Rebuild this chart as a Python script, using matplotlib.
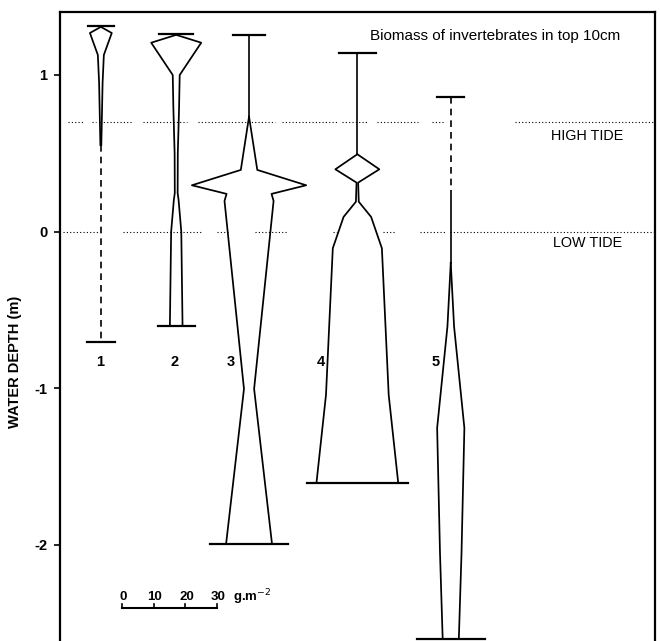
import matplotlib
matplotlib.use('Agg')
import matplotlib.pyplot as plt

plt.rcParams['font.family'] = ['Liberation Sans', 'DejaVu Sans']

# kite centres along x, in g.m-2 measured from the left spine
sites = ['1', '2', '3', '4', '5']
centres = [12.9, 36.7, 59.7, 93.9, 123.4]

# kite outlines: depth (m) and biomass (g.m-2, full kite width)
depth_1 = [1.307, 1.268, 1.128, 0.95, 0.70, 0.553]
biomass_1 = [0.0, 6.9, 1.9, 1.1, 0.6, 0.3]

depth_2 = [1.255, 1.206, 1.0, 0.79, 0.50, 0.247, 0.202, 0.0, -0.602]
biomass_2 = [0.3, 15.8, 2.2, 1.8, 1.0, 0.9, 1.5, 3.2, 4.0]

depth_3 = [0.734, 0.394, 0.296, 0.241, 0.196, -1.004, -1.993]
biomass_3 = [0.0, 5.2, 36.1, 14.2, 15.5, 3.2, 14.5]

depth_4 = [0.494, 0.398, 0.313, 0.191, 0.094, -0.106, -1.042, -1.602]
biomass_4 = [0.0, 13.9, 0.5, 0.9, 8.7, 15.5, 19.8, 25.8]

depth_5 = [-0.20, -0.606, -1.253, -2.05, -2.60]
biomass_5 = [0.0, 2.1, 8.6, 6.8, 5.1]

depths = [depth_1, depth_2, depth_3, depth_4, depth_5]
biomass = [biomass_1, biomass_2, biomass_3, biomass_4, biomass_5]

# sampled range of each site (end bars)
range_top = [1.315, 1.262, 1.256, 1.139, 0.862]
range_bottom = [-0.702, -0.602, -1.993, -1.602, -2.60]
bar_top = [8.4, 10.7, 10.0, 11.8, 8.4]
bar_bottom = [9.0, 11.8, 24.8, 32.1, 21.5]

# stems where the animals were present at very low biomass
solid_stems = [(2, 1.256, 0.734), (3, 1.139, 0.494), (4, 0.26, -0.20)]
dashed_stems = [(0, 0.553, -0.702), (4, 0.862, 0.26)]

# tide levels and the pieces of the dotted lines that were drawn
high_tide = 0.70
low_tide = 0.0
high_pieces = [(2.5, 7.3), (10.1, 11.4), (12.6, 23.1), (26.2, 40.1), (43.6, 67.9),
               (70.1, 87.5), (89.0, 96.9), (100.1, 113.0), (117.5, 121.6), (143.7, 187.9)]
low_pieces = [(0.9, 12.0), (19.9, 44.7), (49.6, 53.7), (61.6, 71.7), (86.2, 87.5),
              (102.0, 105.8), (113.7, 121.6), (123.1, 187.9)]

scale_ticks = [0, 10, 20, 30]

fig = plt.figure(figsize=(6.6, 6.41), dpi=100)
ax = fig.add_axes([60 / 660, 0.0, 595 / 660, 629 / 641])
ax.set_xlim(0, 187.9)
ax.set_ylim(-2.613, 1.402)

for lo, hi in high_pieces:
    ax.plot([lo, hi], [high_tide, high_tide], color='k', lw=0.8, ls=(0, (1, 2)))
for lo, hi in low_pieces:
    ax.plot([lo, hi], [low_tide, low_tide], color='k', lw=0.8, ls=(0, (1, 2)))

for c, d, b in zip(centres, depths, biomass):
    ax.plot([c - w / 2 for w in b], d, color='k', lw=1.25)
    ax.plot([c + w / 2 for w in b], d, color='k', lw=1.25)

for i in range(len(sites)):
    c = centres[i]
    ax.plot([c - bar_top[i] / 2, c + bar_top[i] / 2], [range_top[i]] * 2, color='k', lw=1.6)
    ax.plot([c - bar_bottom[i] / 2, c + bar_bottom[i] / 2], [range_bottom[i]] * 2, color='k', lw=1.6)

for i, top, bot in solid_stems:
    ax.plot([centres[i]] * 2, [top, bot], color='k', lw=1.2)
for i, top, bot in dashed_stems:
    ax.plot([centres[i]] * 2, [top, bot], color='k', lw=1.2, ls=(0, (4, 3)))

label_x = [12.6, 36.3, 53.9, 82.3, 118.7]
for s, x in zip(sites, label_x):
    ax.text(x, -0.83, s, ha='center', va='center', fontsize=10.5, fontweight='bold')

ax.text(137.4, 1.25, 'Biomass of invertebrates in top 10cm', ha='center', va='center', fontsize=11)
ax.text(166.5, 0.61, 'HIGH TIDE', ha='center', va='center', fontsize=10.4)
ax.text(166.5, -0.075, 'LOW TIDE', ha='center', va='center', fontsize=10.4)

# scale bar for kite width
x0 = 19.6
ax.plot([x0, x0 + scale_ticks[-1]], [-2.40, -2.40], color='k', lw=1.5)
for t in scale_ticks:
    ax.plot([x0 + t, x0 + t], [-2.40, -2.38], color='k', lw=1.2)
    ax.text(x0 + t + 0.4, -2.335, str(t), ha='center', va='center', fontsize=9.5, fontweight='bold')
ax.text(x0 + scale_ticks[-1] + 5, -2.335, 'g.m$^{-2}$', ha='left', va='center', fontsize=9.5,
        fontweight='bold')

ax.set_xticks([])
ax.set_yticks([1, 0, -1, -2])
ax.set_yticklabels(['1', '0', '-1', '-2'], fontsize=10.5, fontweight='bold')
ax.tick_params(axis='y', direction='out', length=4, width=1.2, pad=5)
ax.set_ylabel('WATER DEPTH (m)', fontsize=10.5, fontweight='bold')
ax.yaxis.set_label_coords(-0.064, 0.444)
ax.spines['bottom'].set_visible(False)
for side in ['left', 'top', 'right']:
    ax.spines[side].set_linewidth(1.6)

fig.savefig('out.png', dpi=100, facecolor='white')
